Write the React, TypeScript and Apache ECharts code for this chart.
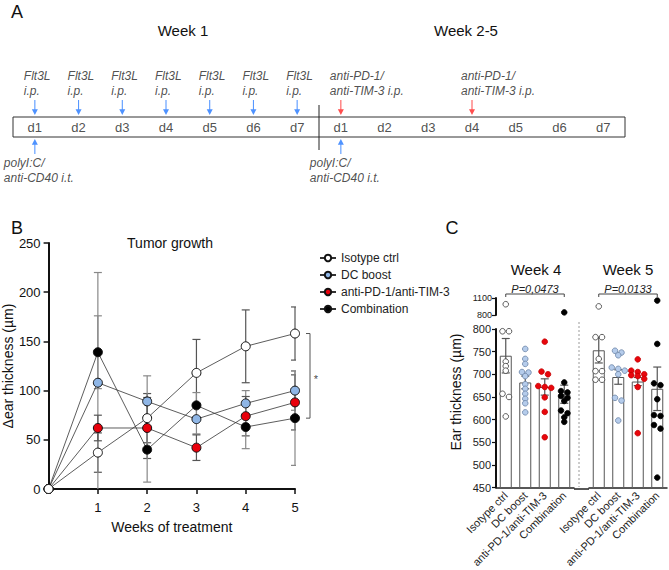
import React, { useEffect, useRef } from 'react';
import * as echarts from 'echarts';

const FONT = '"Liberation Sans", Arial, Helvetica, sans-serif';

// ---------- Panel A: schedule ----------
const DAYS = ['d1', 'd2', 'd3', 'd4', 'd5', 'd6', 'd7', 'd1', 'd2', 'd3', 'd4', 'd5', 'd6', 'd7'];
const WEEK_HEADERS = ['Week 1', 'Week 2-5'];
const WEEK1_LAST_DAY = 6;
const FLT3L_DAYS = [0, 1, 2, 3, 4, 5, 6];
const CHECKPOINT_DAYS = [7, 10];
const POLYIC_DAYS = [0, 7];
const FLT3L_LABEL = 'Flt3L\ni.p.';
const CHECKPOINT_LABEL = 'anti-PD-1/\nanti-TIM-3 i.p.';
const POLYIC_LABEL = 'polyI:C/\nanti-CD40 i.t.';

// ---------- Panel B: tumor growth ----------
const GROUPS = ['Isotype ctrl', 'DC boost', 'anti-PD-1/anti-TIM-3', 'Combination'];
const WEEKS = [0, 1, 2, 3, 4, 5];
const WEEK_TICKS = [1, 2, 3, 4, 5];
const B_ISOTYPE = [0, 37, 72, 118, 145, 158];
const B_DC = [0, 108, 89, 71, 87, 100];
const B_ANTI = [0, 62, 62, 42, 74, 88];
const B_COMB = [0, 139, 40, 85, 63, 72];
const B_ISOTYPE_ERR = [0, 20, 25, 34, 37, 27];
const B_DC_ERR = [0, 112, 26, 15, 13, 20];
const B_ANTI_ERR = [0, 13, 31, 13, 20, 28];
const B_COMB_ERR = [0, 37, 33, 13, 22, 48];
const B_SIGNIF = '*';

// ---------- Panel C: ear thickness ----------
const C_WEEKS = ['Week 4', 'Week 5'];
const P_VALUES = ['P=0,0473', 'P=0,0133'];
const W4_MEAN = [741, 682, 672, 656];
const W4_SEM = [38, 14, 18, 20];
const W5_MEAN = [753, 694, 684, 668];
const W5_SEM = [28, 16, 9, 48];
const W4_ISOTYPE = [990, 795, 795, 728, 718, 708, 657, 650, 607];
const W4_DC = [756, 734, 723, 705, 704, 696, 678, 668, 657, 646, 636, 616];
const W4_ANTI = [772, 706, 700, 674, 672, 670, 649, 617, 561];
const W4_COMB = [846, 682, 663, 660, 652, 648, 641, 620, 614, 605, 595];
const W5_ISOTYPE = [952, 782, 782, 734, 707, 707, 688, 688];
const W5_DC = [752, 748, 742, 715, 712, 708, 700, 648, 642, 598];
const W5_ANTI = [733, 708, 705, 700, 698, 696, 690, 672, 570];
const W5_COMB = [1055, 767, 680, 676, 645, 610, 608, 588, 580, 472];
const C_LOW_TICKS = { min: 450, max: 800, interval: 50 };
const C_UP_TICKS = { min: 800, max: 1100, interval: 300 };

// ---------- styles / layout ----------
const LINE_FILL = ['#ffffff', '#8fb6e6', '#e8000b', '#000000'];
const DOT_FILL = ['#ffffff', '#b5cceb', '#e8060c', '#000000'];
const DOT_STROKE = ['#333333', '#6a83a6', '#c40000', '#000000'];
const BLUE = '#2277ff';
const RED = '#ff2222';
const ARROW = 'path://M3.4,0 L4.6,0 L4.6,10 L7.5,10 L4,16 L0.5,10 L3.4,10 Z';

const GA = { left: 13, top: 117, width: 612, height: 20 };
const GB = { left: 48, top: 243, width: 247, height: 246 };
const C_L4 = 496, C_L5 = 589, C_W = 78;
const C_LOW_TOP = 329, C_LOW_H = 160, C_UP_TOP = 298, C_UP_H = 17;

function swarm(values: number[], pxPerUnit: number, tol = 4, step = 6.5) {
  const order = values.map((_, i) => i).sort((a, b) => values[b] - values[a]);
  const off = new Array(values.length).fill(0);
  let row: number[] = [];
  const flush = () => row.forEach((k, j) => (off[k] = (j - (row.length - 1) / 2) * step));
  for (const k of order) {
    if (row.length && (values[row[0]] - values[k]) * pxPerUnit > tol) {
      flush();
      row = [];
    }
    row.push(k);
  }
  flush();
  return off;
}

function dotData(groups: number[][], upper: boolean) {
  const ppu = C_LOW_H / (C_LOW_TICKS.max - C_LOW_TICKS.min);
  const out: number[][] = [];
  groups.forEach((vals, g) => {
    const off = swarm(vals, ppu);
    vals.forEach((v, i) => {
      if ((v > C_LOW_TICKS.max) === upper) out.push([g, v, off[i]]);
    });
  });
  return out;
}

const errRender = (cap: number, color: string, lw: number) => (_p: any, api: any) => {
  const x = api.value(0), m = api.value(1), e = api.value(2);
  const hi = api.coord([x, m + e]);
  const lo = api.coord([x, m - e]);
  const st = { stroke: color, lineWidth: lw };
  return {
    type: 'group',
    children: [
      { type: 'line', shape: { x1: hi[0], y1: hi[1], x2: lo[0], y2: lo[1] }, style: st },
      { type: 'line', shape: { x1: hi[0] - cap, y1: hi[1], x2: hi[0] + cap, y2: hi[1] }, style: st },
      { type: 'line', shape: { x1: lo[0] - cap, y1: lo[1], x2: lo[0] + cap, y2: lo[1] }, style: st },
    ],
  };
};

const dotRender = (_p: any, api: any) => {
  const g = api.value(0);
  const p = api.coord([g, api.value(1)]);
  return {
    type: 'circle',
    shape: { cx: p[0] + api.value(2), cy: p[1], r: 2.8 },
    style: { fill: DOT_FILL[g], stroke: DOT_STROKE[g], lineWidth: 0.8 },
  };
};

function buildOption(): any {
  const text = (t: string, x: number, y: number, size: number, extra: any = {}) => ({
    type: 'text',
    x,
    y,
    ...extra,
    style: { text: t, fill: '#111', font: `${size}px ${FONT}`, align: 'center', verticalAlign: 'middle' },
  });

  const bSeries = [B_ISOTYPE, B_DC, B_ANTI, B_COMB];
  const bErr = [B_ISOTYPE_ERR, B_DC_ERR, B_ANTI_ERR, B_COMB_ERR];

  const arrowLabel = (fmt: string, pos: string, dx: number) => ({
    show: true,
    position: pos,
    distance: 1,
    align: 'left',
    offset: [dx, 0],
    formatter: fmt,
    fontStyle: 'italic',
    fontSize: 12,
    lineHeight: 15,
    color: '#222',
    fontFamily: FONT,
  });

  const cXAxis = (gi: number) => ({
    gridIndex: gi,
    type: 'category',
    data: GROUPS,
    axisLine: { lineStyle: { color: '#222', width: 1.5 } },
    axisTick: { alignWithLabel: true, length: 4, lineStyle: { color: '#222' } },
    axisLabel: { rotate: 45, fontSize: 11, margin: 6, color: '#222', interval: 0, fontFamily: FONT },
  });

  const series: any[] = [];

  // Panel A
  series.push({
    type: 'scatter', xAxisIndex: 0, yAxisIndex: 0, silent: true, clip: false,
    data: DAYS.map((_, i) => [i, 0.5]), symbolSize: 1, itemStyle: { color: 'transparent' },
    label: { show: true, position: 'inside', formatter: (p: any) => DAYS[p.dataIndex], fontSize: 13, color: '#222', fontFamily: FONT },
  });
  series.push({
    type: 'scatter', xAxisIndex: 0, yAxisIndex: 0, silent: true, clip: false,
    data: FLT3L_DAYS.map((d) => [d, 1.48]), symbol: ARROW, symbolSize: [6, 15], itemStyle: { color: BLUE },
    label: arrowLabel(FLT3L_LABEL, 'top', -11),
  });
  series.push({
    type: 'scatter', xAxisIndex: 0, yAxisIndex: 0, silent: true, clip: false,
    data: CHECKPOINT_DAYS.map((d) => [d, 1.48]), symbol: ARROW, symbolSize: [6, 15], itemStyle: { color: RED },
    label: arrowLabel(CHECKPOINT_LABEL, 'top', -11),
  });
  series.push({
    type: 'scatter', xAxisIndex: 0, yAxisIndex: 0, silent: true, clip: false,
    data: POLYIC_DAYS.map((d) => [d, -0.48]), symbol: ARROW, symbolRotate: 180, symbolSize: [6, 15], itemStyle: { color: BLUE },
    label: arrowLabel(POLYIC_LABEL, 'bottom', -31),
  });
  series.push({
    type: 'custom', xAxisIndex: 0, yAxisIndex: 0, silent: true, clip: false,
    data: [[WEEK1_LAST_DAY, 0]],
    renderItem: (_p: any, api: any) => {
      const c = api.coord([api.value(0), 0]);
      const s = api.size([1, 0]);
      const top = api.coord([api.value(0), 1])[1];
      const x = c[0] + s[0] / 2;
      return { type: 'line', shape: { x1: x, y1: top - 12, x2: x, y2: c[1] + 13 }, style: { stroke: '#222', lineWidth: 1 } };
    },
  });

  // Panel B
  bErr.forEach((errs, g) => {
    series.push({
      type: 'custom', xAxisIndex: 1, yAxisIndex: 1, silent: true, clip: true, z: 1,
      data: WEEKS.slice(1).map((w, i) => [w, bSeries[g][i + 1], errs[i + 1]]),
      renderItem: errRender(4, g % 2 === 0 ? '#555' : '#888', 1.2),
    });
  });
  bSeries.forEach((vals, g) => {
    series.push({
      type: 'line', name: GROUPS[g], xAxisIndex: 1, yAxisIndex: 1, z: g === 0 ? 4 : 3,
      data: WEEKS.map((w, i) => [w, vals[i]]),
      symbol: 'circle', symbolSize: 9, showSymbol: true,
      lineStyle: { color: '#333', width: 0.8 },
      itemStyle: { color: LINE_FILL[g], borderColor: '#111', borderWidth: 1 },
    });
  });
  series.push({
    type: 'custom', xAxisIndex: 1, yAxisIndex: 1, silent: true, clip: false,
    data: [[WEEKS[5], B_ISOTYPE[5], B_COMB[5]]],
    renderItem: (_p: any, api: any) => {
      const a = api.coord([api.value(0), api.value(1)]);
      const b = api.coord([api.value(0), api.value(2)]);
      const x = a[0] + 15;
      const st = { stroke: '#555', lineWidth: 1 };
      return {
        type: 'group',
        children: [
          { type: 'line', shape: { x1: x, y1: a[1], x2: x, y2: b[1] }, style: st },
          { type: 'line', shape: { x1: x - 4, y1: a[1], x2: x, y2: a[1] }, style: st },
          { type: 'line', shape: { x1: x - 4, y1: b[1], x2: x, y2: b[1] }, style: st },
        ],
      };
    },
  });
  series.push({
    type: 'scatter', xAxisIndex: 1, yAxisIndex: 1, silent: true, clip: false,
    data: [[WEEKS[5], (B_ISOTYPE[5] + B_COMB[5]) / 2]],
    symbolSize: 1, itemStyle: { color: 'transparent' },
    label: { show: true, position: 'inside', offset: [21, 3], formatter: B_SIGNIF, fontSize: 11, color: '#111', fontFamily: FONT },
  });

  // Panel C
  const weekMeans = [W4_MEAN, W5_MEAN];
  const weekSem = [W4_SEM, W5_SEM];
  const weekDots = [
    [W4_ISOTYPE, W4_DC, W4_ANTI, W4_COMB],
    [W5_ISOTYPE, W5_DC, W5_ANTI, W5_COMB],
  ];
  [0, 1].forEach((w) => {
    const low = 2 + w, up = 4 + w;
    series.push({
      type: 'bar', xAxisIndex: low, yAxisIndex: low, z: 2, silent: true,
      data: weekMeans[w], barWidth: 12,
      itemStyle: { color: '#ffffff', borderColor: '#555', borderWidth: 1 },
    });
    series.push({
      type: 'custom', xAxisIndex: low, yAxisIndex: low, z: 3, silent: true, clip: false,
      data: weekMeans[w].map((m, g) => [g, m, weekSem[w][g]]),
      renderItem: errRender(4, '#555', 1.2),
    });
    series.push({
      type: 'custom', xAxisIndex: low, yAxisIndex: low, z: 4, silent: true, clip: false,
      data: dotData(weekDots[w], false), renderItem: dotRender,
    });
    series.push({
      type: 'custom', xAxisIndex: up, yAxisIndex: up, z: 4, silent: true, clip: false,
      data: dotData(weekDots[w], true), renderItem: dotRender,
    });
    series.push({
      type: 'custom', xAxisIndex: up, yAxisIndex: up, silent: true, clip: false,
      data: [[0, GROUPS.length - 1]],
      renderItem: (_p: any, api: any) => {
        const a = api.coord([api.value(0), C_UP_TICKS.max]);
        const b = api.coord([api.value(1), C_UP_TICKS.max]);
        const y = a[1] - 4;
        const st = { stroke: '#444', lineWidth: 1 };
        return {
          type: 'group',
          children: [
            { type: 'line', shape: { x1: a[0], y1: y, x2: b[0], y2: y }, style: st },
            { type: 'line', shape: { x1: a[0], y1: y, x2: a[0], y2: y + 3 }, style: st },
            { type: 'line', shape: { x1: b[0], y1: y, x2: b[0], y2: y + 3 }, style: st },
            { type: 'text', x: (a[0] + b[0]) / 2, y: y - 5, style: { text: P_VALUES[w], fill: '#222', font: `italic 11px ${FONT}`, align: 'center', verticalAlign: 'middle' } },
          ],
        };
      },
    });
  });

  const cMidX = (left: number) => left + C_W / 2;

  return {
    animation: false,
    backgroundColor: '#ffffff',
    textStyle: { fontFamily: FONT },
    grid: [
      { ...GA, show: true, borderColor: '#333', borderWidth: 1, backgroundColor: 'transparent' },
      { ...GB },
      { left: C_L4, top: C_LOW_TOP, width: C_W, height: C_LOW_H },
      { left: C_L5, top: C_LOW_TOP, width: C_W, height: C_LOW_H },
      { left: C_L4, top: C_UP_TOP, width: C_W, height: C_UP_H },
      { left: C_L5, top: C_UP_TOP, width: C_W, height: C_UP_H },
    ],
    xAxis: [
      { gridIndex: 0, type: 'category', data: DAYS, show: false },
      {
        gridIndex: 1, type: 'value', min: 0, max: 5, interval: 1,
        axisLine: { show: true, lineStyle: { color: '#111', width: 2 } },
        axisTick: { show: true, length: 5, customValues: WEEK_TICKS, lineStyle: { color: '#111', width: 1.5 } },
        axisLabel: { customValues: WEEK_TICKS, fontSize: 13, margin: 12, color: '#111', fontFamily: FONT },
        splitLine: { show: false },
        name: 'Weeks of treatment', nameLocation: 'middle', nameGap: 31,
        nameTextStyle: { fontSize: 14, color: '#111', fontFamily: FONT },
      },
      cXAxis(2),
      cXAxis(3),
      { gridIndex: 4, type: 'category', data: GROUPS, show: false },
      { gridIndex: 5, type: 'category', data: GROUPS, show: false },
    ],
    yAxis: [
      { gridIndex: 0, type: 'value', min: 0, max: 1, show: false },
      {
        gridIndex: 1, type: 'value', min: 0, max: 250, interval: 50,
        axisLine: { show: true, lineStyle: { color: '#111', width: 2 } },
        axisTick: { show: true, length: 5, lineStyle: { color: '#111', width: 1.5 } },
        axisLabel: { fontSize: 13, margin: 8, color: '#111', fontFamily: FONT },
        splitLine: { show: false },
        name: 'Δear thickness (µm)', nameLocation: 'middle', nameGap: 32,
        nameTextStyle: { fontSize: 14, color: '#111', fontFamily: FONT },
      },
      {
        gridIndex: 2, type: 'value', ...C_LOW_TICKS,
        axisLine: { show: true, lineStyle: { color: '#111', width: 2 } },
        axisTick: { show: true, length: 4, lineStyle: { color: '#111', width: 1.2 } },
        axisLabel: { fontSize: 11, margin: 5, color: '#222', fontFamily: FONT, formatter: (v: number) => String(v) },
        splitLine: { show: false },
      },
      { gridIndex: 3, type: 'value', ...C_LOW_TICKS, show: false },
      {
        gridIndex: 4, type: 'value', ...C_UP_TICKS,
        axisLine: { show: true, lineStyle: { color: '#111', width: 2 } },
        axisTick: { show: true, length: 4, lineStyle: { color: '#111', width: 1.2 } },
        axisLabel: { fontSize: 9, margin: 4, color: '#222', fontFamily: FONT, formatter: (v: number) => String(v) },
        splitLine: { show: false },
      },
      { gridIndex: 5, type: 'value', ...C_UP_TICKS, show: false },
    ],
    legend: {
      data: GROUPS,
      orient: 'vertical',
      left: 314,
      top: 247,
      itemWidth: 16,
      itemHeight: 8,
      itemGap: 5,
      selectedMode: false,
      textStyle: { fontSize: 12, color: '#222', fontFamily: FONT, lineHeight: 12 },
    },
    graphic: [
      text('A', 17, 12, 18),
      text('B', 17, 228, 18),
      text('C', 452, 228, 18),
      text(WEEK_HEADERS[0], 183, 30, 15),
      text(WEEK_HEADERS[1], 466, 30, 15),
      text('Tumor growth', 170, 243, 14),
      text(C_WEEKS[0], cMidX(C_L4) + 1, 269, 15),
      text(C_WEEKS[1], cMidX(C_L5), 269, 15),
      text('Ear thickness (µm)', 456, 392, 14, { rotation: Math.PI / 2 }),
      {
        type: 'line',
        shape: { x1: C_L4 + C_W + 5, y1: 322, x2: C_L4 + C_W + 5, y2: C_LOW_TOP + C_LOW_H - 2 },
        style: { stroke: '#9a9a9a', lineWidth: 1, lineDash: [2, 2] },
      },
      {
        type: 'line',
        shape: { x1: C_L4 + C_W, y1: C_LOW_TOP + C_LOW_H, x2: C_L5, y2: C_LOW_TOP + C_LOW_H },
        style: { stroke: '#222', lineWidth: 1.5 },
      },
    ],
    series,
  };
}

export default function App() {
  const ref = useRef<HTMLDivElement>(null);
  useEffect(() => {
    const chart = echarts.init(ref.current as HTMLDivElement, null, { renderer: 'svg' });
    chart.setOption(buildOption());
    return () => chart.dispose();
  }, []);
  return (
    <div
      ref={ref}
      style={{ position: 'fixed', left: 0, top: 0, width: 669, height: 570, background: '#ffffff' }}
    />
  );
}
